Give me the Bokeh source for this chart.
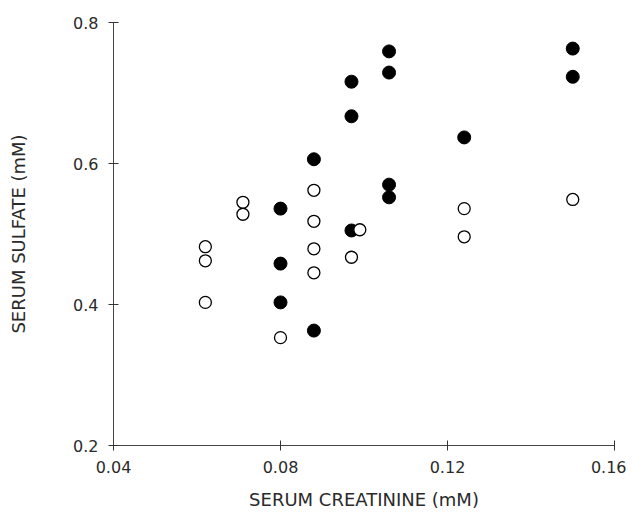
from bokeh.plotting import figure
from bokeh.models import FixedTicker
from bokeh.embed import file_html
from bokeh.resources import INLINE

# Filled circles
filled_x = [0.080, 0.080, 0.080, 0.088, 0.088, 0.097, 0.097, 0.097,
            0.106, 0.106, 0.106, 0.106, 0.124, 0.150, 0.150]
filled_y = [0.536, 0.458, 0.403, 0.606, 0.363, 0.716, 0.667, 0.505,
            0.759, 0.729, 0.570, 0.552, 0.637, 0.763, 0.723]

# Open circles
open_x = [0.062, 0.062, 0.062, 0.071, 0.071, 0.080, 0.088, 0.088,
          0.088, 0.088, 0.097, 0.099, 0.124, 0.124, 0.150]
open_y = [0.482, 0.462, 0.403, 0.545, 0.528, 0.353, 0.562, 0.518,
          0.479, 0.445, 0.467, 0.506, 0.536, 0.496, 0.549]

x_ticks = [0.04, 0.08, 0.12, 0.16]
x_tick_labels = ["0.04", "0.08", "0.12", "0.16"]
y_ticks = [0.2, 0.4, 0.6, 0.8]
y_tick_labels = ["0.2", "0.4", "0.6", "0.8"]

x_title = "SERUM CREATININE (mM)"
y_title = "SERUM SULFATE (mM)"

p = figure(width=626, height=515, x_range=(0.04, 0.16), y_range=(0.2, 0.8),
           output_backend="svg", toolbar_location=None,
           min_border_left=113, min_border_right=12,
           min_border_top=22, min_border_bottom=70)
p.outline_line_color = None
p.grid.visible = False
p.background_fill_color = "white"
p.border_fill_color = "white"

FONT = "DejaVu Sans"
for ax, ticks, labels in ((p.xaxis[0], x_ticks, x_tick_labels),
                          (p.yaxis[0], y_ticks, y_tick_labels)):
    ax.ticker = FixedTicker(ticks=ticks, minor_ticks=[])
    ax.major_label_overrides = {t: l for t, l in zip(ticks, labels)}
    ax.axis_line_color = "#444444"
    ax.axis_line_width = 1
    ax.major_tick_line_color = "#333333"
    ax.major_tick_in = 5
    ax.major_tick_out = 5
    ax.minor_tick_line_color = None
    ax.major_label_text_font = FONT
    ax.major_label_text_font_size = "16px"
    ax.major_label_text_color = "#2a2a2a"
    ax.major_label_standoff = 10
    ax.axis_label_text_font = FONT
    ax.axis_label_text_font_size = "18px"
    ax.axis_label_text_font_style = "normal"
    ax.axis_label_text_color = "#2a2a2a"

p.xaxis[0].axis_label = x_title
p.yaxis[0].axis_label = y_title
p.xaxis[0].axis_label_standoff = 13
p.yaxis[0].axis_label_standoff = 41

p.scatter(filled_x, filled_y, size=13, marker="circle",
          fill_color="black", line_color="black")
p.scatter(open_x, open_y, size=12, marker="circle",
          fill_color="white", line_color="black", line_width=1.3)

open("out.html", "w").write(file_html(p, INLINE))
